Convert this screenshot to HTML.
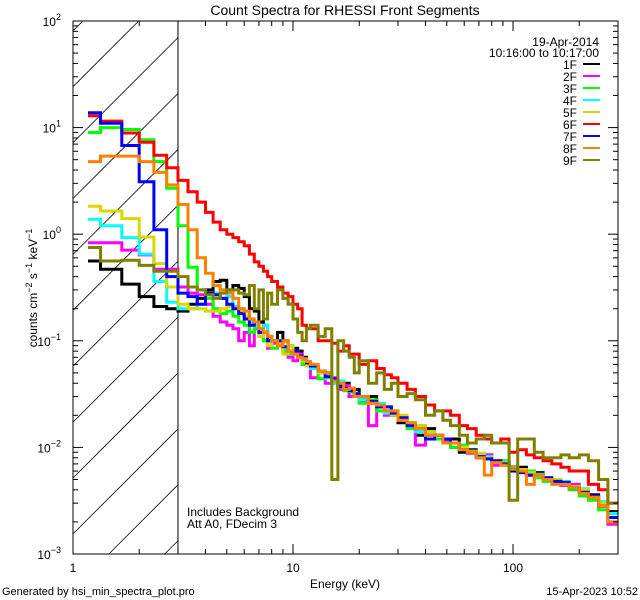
<!DOCTYPE html>
<html><head><meta charset="utf-8">
<style>
html,body{margin:0;padding:0;background:#fff;width:640px;height:600px;overflow:hidden;}
svg{display:block;font-family:"Liberation Sans",sans-serif;overflow:hidden;}
</style></head>
<body>
<svg id="chart" width="640" height="600" viewBox="0 0 640 600" xmlns="http://www.w3.org/2000/svg">
<rect x="0" y="0" width="640" height="600" fill="#fff"/>
<text x="345" y="15" text-anchor="middle" font-size="14">Count Spectra for RHESSI Front Segments</text>
<text x="345" y="588" text-anchor="middle" font-size="12">Energy (keV)</text>
<text transform="translate(37,288) rotate(-90)" text-anchor="middle" font-size="12">counts cm<tspan dy="-5" font-size="9">−2</tspan><tspan dy="5"> s</tspan><tspan dy="-5" font-size="9">−1</tspan><tspan dy="5"> keV</tspan><tspan dy="-5" font-size="9">−1</tspan></text>
<text x="2" y="595" font-size="11">Generated by hsi_min_spectra_plot.pro</text>
<text x="638" y="595" text-anchor="end" font-size="11">15-Apr-2023 10:52</text>
<text x="187" y="516" font-size="12">Includes Background</text>
<text x="187" y="528" font-size="12">Att A0, FDecim 3</text>
<g id="plot"></g>
</svg>
<script>
const edges=[1.17,1.333,1.667,2,2.333,2.667,3,3.333,3.667,4,4.333,4.667,5,5.333,5.667,6,6.333,6.667,7,7.333,7.667,8,8.5,9,9.5,10,10.5,11,11.5,12,13,14,15,16,17,18,19,20,22,24,26,28,30,33,36,40,44,48,52,57,62,68,74,80,88,96,105,115,125,137,150,165,180,200,220,245,270,300];
const seriesNames=["1F","2F","3F","4F","5F","6F","7F","8F","9F"];
const seriesColors=["#000000","#ff00ff","#00ff00","#00ffff","#d8d800","#ff0000","#0000ff","#ff8000","#808000"];
const s1F=[0.56,0.47,0.34,0.26,0.21,0.20,0.19,0.22,0.25,0.3,0.36,0.37,0.3,0.33,0.31,0.26,0.2,0.19,0.15,0.14,0.11,0.1,0.12,0.1,0.09,0.085,0.08,0.07,0.062,0.058,0.05,0.05,0.043,0.036,0.04,0.03,0.035,0.028,0.03,0.024,0.022,0.02,0.017,0.016,0.013,0.015,0.012,0.011,0.012,0.009,0.0095,0.008,0.0085,0.007,0.0072,0.006,0.0065,0.0055,0.0058,0.005,0.0048,0.0045,0.0042,0.0038,0.0036,0.003,0.0025];
const s2F=[0.83,0.83,0.71,0.64,0.47,0.47,0.32,0.28,0.27,0.22,0.17,0.15,0.14,0.13,0.1,0.12,0.09,0.13,0.12,0.1,0.085,0.095,0.09,0.08,0.07,0.065,0.075,0.06,0.06,0.045,0.05,0.04,0.045,0.035,0.038,0.03,0.031,0.027,0.016,0.024,0.02,0.021,0.018,0.0165,0.0105,0.013,0.012,0.0115,0.01,0.0095,0.0088,0.008,0.0085,0.0068,0.0072,0.0062,0.006,0.0056,0.0055,0.005,0.005,0.0044,0.0045,0.004,0.0033,0.0028,0.0019];
const s3F=[9.0,10,9.6,7.7,4.8,2.7,1.2,0.49,0.3,0.25,0.2,0.18,0.19,0.17,0.15,0.14,0.12,0.13,0.11,0.1,0.1,0.085,0.09,0.08,0.075,0.078,0.07,0.06,0.06,0.055,0.044,0.048,0.04,0.042,0.034,0.033,0.03,0.026,0.028,0.022,0.024,0.02,0.018,0.015,0.016,0.013,0.012,0.012,0.01,0.0105,0.009,0.0082,0.0078,0.0073,0.0075,0.0063,0.0058,0.006,0.0052,0.0048,0.005,0.0045,0.004,0.0035,0.0032,0.0026,0.002];
const s4F=[1.38,1.2,0.93,0.65,0.36,0.23,0.2,0.2,0.22,0.27,0.28,0.25,0.26,0.21,0.2,0.17,0.15,0.14,0.13,0.14,0.11,0.1,0.095,0.085,0.09,0.075,0.07,0.068,0.06,0.055,0.05,0.045,0.04,0.042,0.035,0.034,0.032,0.028,0.026,0.026,0.021,0.022,0.019,0.017,0.014,0.014,0.013,0.012,0.011,0.01,0.0092,0.0085,0.0082,0.0075,0.0068,0.0066,0.006,0.0058,0.0056,0.0052,0.0049,0.0048,0.0043,0.0041,0.0035,0.0031,0.0024];
const s5F=[1.83,1.65,1.4,0.94,0.53,0.32,0.22,0.2,0.2,0.19,0.19,0.2,0.21,0.2,0.19,0.17,0.14,0.15,0.11,0.12,0.09,0.1,0.095,0.075,0.09,0.08,0.07,0.065,0.058,0.06,0.05,0.05,0.043,0.04,0.036,0.036,0.032,0.03,0.026,0.025,0.024,0.02,0.02,0.017,0.016,0.014,0.013,0.012,0.011,0.01,0.0092,0.0088,0.008,0.0076,0.0072,0.0065,0.0062,0.0058,0.0054,0.0052,0.005,0.0046,0.0043,0.004,0.0034,0.003,0.0022];
const s6F=[12.9,11.5,8.9,7.3,5.5,4.2,3.2,2.5,2.0,1.6,1.3,1.1,1.0,0.93,0.85,0.78,0.65,0.55,0.5,0.45,0.4,0.36,0.32,0.28,0.26,0.22,0.2,0.14,0.13,0.13,0.1,0.1,0.095,0.08,0.09,0.075,0.075,0.06,0.065,0.055,0.048,0.045,0.04,0.035,0.03,0.025,0.022,0.022,0.02,0.016,0.015,0.013,0.012,0.011,0.012,0.009,0.0095,0.0085,0.008,0.0075,0.007,0.0065,0.006,0.006,0.0045,0.004,0.003];
const s7F=[13.8,11,6.8,3.1,1.1,0.40,0.28,0.26,0.22,0.28,0.27,0.25,0.22,0.2,0.18,0.16,0.14,0.15,0.12,0.12,0.1,0.1,0.1,0.088,0.08,0.08,0.072,0.068,0.062,0.058,0.052,0.046,0.044,0.038,0.036,0.034,0.032,0.03,0.027,0.024,0.024,0.021,0.019,0.016,0.015,0.012,0.013,0.012,0.011,0.0095,0.009,0.0082,0.0078,0.0075,0.007,0.0065,0.0058,0.0055,0.0055,0.0052,0.0048,0.0047,0.0042,0.0038,0.0035,0.0028,0.0022];
const s8F=[4.8,5.4,5.4,4.8,3.8,2.9,1.9,1.1,0.6,0.43,0.33,0.3,0.28,0.25,0.2,0.19,0.16,0.15,0.13,0.12,0.11,0.1,0.09,0.1,0.08,0.075,0.07,0.068,0.064,0.06,0.052,0.05,0.042,0.04,0.035,0.036,0.03,0.03,0.026,0.025,0.022,0.022,0.018,0.017,0.015,0.013,0.013,0.011,0.011,0.0095,0.009,0.008,0.0055,0.0072,0.0068,0.0065,0.006,0.0045,0.0055,0.005,0.0045,0.0045,0.0042,0.0037,0.0034,0.0028,0.002];
const s9F=[0.75,0.56,0.57,0.51,0.45,0.45,0.40,0.32,0.3,0.27,0.25,0.28,0.3,0.3,0.28,0.27,0.33,0.2,0.3,0.16,0.28,0.22,0.3,0.25,0.22,0.16,0.12,0.1,0.13,0.14,0.11,0.13,0.005,0.1,0.08,0.07,0.05,0.065,0.04,0.05,0.035,0.04,0.03,0.032,0.028,0.02,0.022,0.018,0.016,0.013,0.011,0.012,0.013,0.011,0.011,0.0032,0.012,0.012,0.009,0.008,0.008,0.0085,0.008,0.0085,0.0075,0.005,0.003];
const seriesValues=[s1F,s2F,s3F,s4F,s5F,s6F,s7F,s8F,s9F];
const xTickLabels=["1","10","100"];
const yTickExps=[-3,-2,-1,0,1,2];

const NS="http://www.w3.org/2000/svg";
const L=73,R=618,T=21,B=554;
const xMin=1,xMax=300,yMin=-3,yMax=2;
function xs(e){return L+(Math.log10(e)-Math.log10(xMin))/(Math.log10(xMax)-Math.log10(xMin))*(R-L);}
function ys(v){return B-(Math.log10(v)-yMin)/(yMax-yMin)*(B-T);}
const plot=document.getElementById('plot');
function mk(tag,attrs,parent){const el=document.createElementNS(NS,tag);for(const k in attrs)el.setAttribute(k,attrs[k]);(parent||plot).appendChild(el);return el;}

const defs=mk('defs',{});
const cp=mk('clipPath',{id:'pc'},defs);
mk('rect',{x:L,y:T,width:R-L,height:B-T},cp);

const hatch=mk('g',{});


const x3=xs(3);
for(let c=86.7-55.9*3;c<B+(x3-L)+60;c+=55.9){
  // line y = c - (x-L), clipped to [L,x3]x[T,B]
  const xa0=Math.max(L,L+c-B), xb0=Math.min(x3,L+c-T);
  if(xb0<=xa0)continue;
  mk('line',{x1:xa0,y1:c-(xa0-L),x2:xb0,y2:c-(xb0-L),stroke:'#000','stroke-width':0.8},hatch);
}
const cut=mk('line',{x1:x3,y1:T,x2:x3,y2:B,stroke:'#000','stroke-width':1},hatch);



const sg=mk('g',{'clip-path':'url(#pc)'});
seriesValues.forEach((vals,si)=>{
  let d='';
  vals.forEach((v,i)=>{
    const xa=xs(edges[i]).toFixed(1),xb=xs(edges[i+1]).toFixed(1),y=ys(v).toFixed(1);
    d+=(i===0?'M':'L')+xa+','+y+'L'+xb+','+y;
  });
  const p=mk('path',{d:d,fill:'none',stroke:seriesColors[si],'stroke-width':3,'stroke-linejoin':'miter'},sg);
  
  
});

const frame=mk('rect',{x:L,y:T,width:R-L,height:B-T,fill:'none',stroke:'#000','stroke-width':1});



const xa=mk('g',{});


for(let dec=1;dec<=100;dec*=10){
  for(let m=1;m<=9;m++){
    const e=dec*m; if(e>xMax)break;
    const x=xs(e),len=m===1?10:5;
    mk('line',{x1:x,y1:B,x2:x,y2:B-len,stroke:'#000'},xa);
    mk('line',{x1:x,y1:T,x2:x,y2:T+len,stroke:'#000'},xa);
  }
}
xTickLabels.forEach(lbl=>{
  const t=mk('text',{x:xs(+lbl),y:B+18,'text-anchor':'middle','font-size':12},xa);
  t.textContent=lbl;
  
  
});
const ya=mk('g',{});


for(let ex=yMin;ex<yMax;ex++){
  for(let m=1;m<=9;m++){
    const v=m*Math.pow(10,ex),y=ys(v),len=m===1?10:5;
    mk('line',{x1:L,y1:y,x2:L+len,y2:y,stroke:'#000'},ya);
    mk('line',{x1:R,y1:y,x2:R-len,y2:y,stroke:'#000'},ya);
  }
}
yTickExps.forEach(ex=>{
  const t=mk('text',{x:L-12,y:ys(Math.pow(10,ex))+5,'text-anchor':'end','font-size':12},ya);
  
  
  const a=document.createElementNS(NS,'tspan');a.textContent='10';t.appendChild(a);
  const b=document.createElementNS(NS,'tspan');b.setAttribute('dy','-6');b.setAttribute('font-size','9');b.textContent=String(ex).replace('-','−');t.appendChild(b);
});

const lg=mk('g',{});


const d1=mk('text',{x:599,y:46,'text-anchor':'end','font-size':12},lg);d1.textContent='19-Apr-2014';


const d2=mk('text',{x:599,y:57,'text-anchor':'end','font-size':12},lg);d2.textContent='10:16:00 to 10:17:00';


seriesNames.forEach((n,i)=>{
  const y=64+i*12;
  const e=mk('g',{},lg);
  
  
  const t=mk('text',{x:577,y:y+5,'text-anchor':'end','font-size':12},e);t.textContent=n;
  mk('line',{x1:583,y1:y,x2:600,y2:y,stroke:seriesColors[i],'stroke-width':2},e);
});
</script>
</body></html>
